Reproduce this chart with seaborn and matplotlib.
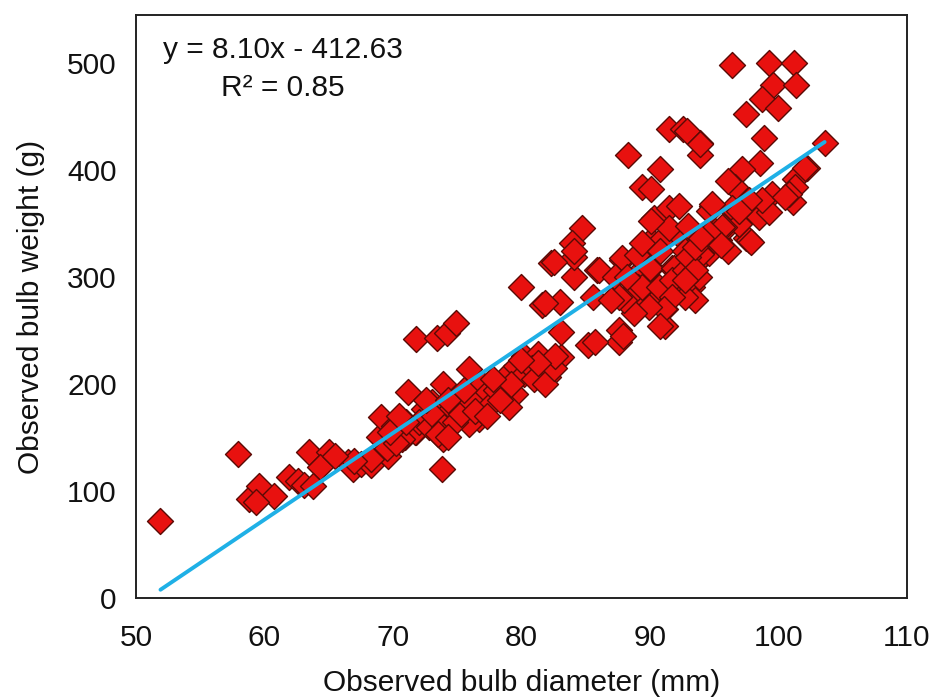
import matplotlib
matplotlib.use("Agg")
import matplotlib.pyplot as plt
import seaborn as sns
import numpy as np
import pandas as pd

# Observed bulb diameter (mm) and weight (g)
diameter = [
    51.9, 57.9, 58.8, 59.6, 60.7, 59.3, 61.9, 62.6, 63.1, 63.5, 65.0, 64.3, 63.8, 66.5, 66.9,
    67.5, 68.3, 69.6, 68.9, 69.1, 70.1, 71.2, 71.8, 70.9, 72.4, 73.9, 73.8, 73.9, 74.6, 71.8,
    73.4, 74.2, 74.9, 75.9, 76.9, 78.7, 79.6, 80.2, 81.3, 83.1, 82.1, 79.5, 79.0, 77.1, 75.9,
    76.7, 74.6, 73.8, 73.0, 71.7, 75.9, 70.7, 68.3, 67.0, 65.5, 69.5, 70.2, 72.0, 72.8, 73.2,
    74.0, 74.8, 75.3, 76.0, 77.5, 78.0, 78.3, 80.2, 80.8, 81.0, 81.8, 82.5, 79.2, 77.8, 69.8,
    71.0, 70.5, 72.6, 74.3, 75.5, 76.4, 77.3, 73.5, 74.3,
    80.0, 82.3, 84.1, 84.1, 85.9, 87.8, 81.6, 83.0, 85.6, 83.1, 85.2, 87.6, 87.6, 82.6, 81.3,
    80.0, 88.7, 88.6, 89.1, 88.3, 90.8, 89.4, 90.1, 91.5, 92.6, 93.9, 93.9, 90.3, 91.5, 92.3,
    94.8, 84.7, 83.9, 84.1, 82.5, 81.8, 87.8, 89.0, 90.1, 90.9, 90.1, 91.7, 89.1, 90.7, 91.2,
    89.1, 88.3, 91.9, 93.3, 93.8, 93.0, 94.3, 91.2, 95.0, 92.5, 91.5, 90.1, 93.0, 94.6, 96.6,
    97.5, 86.0, 87.3, 89.4, 90.0, 90.8, 91.9, 92.7, 93.8, 94.6, 95.4, 95.8, 96.1, 89.4, 90.7,
    91.7, 92.7, 93.5, 92.7, 91.7, 91.1, 89.9, 88.8, 88.0, 87.6, 87.0, 90.8, 87.9, 88.2, 85.7,
    96.4, 99.3, 101.2, 99.6, 101.4, 98.7, 100.0, 97.5, 98.9, 103.6, 98.6, 97.2, 96.6, 92.9,
    93.9, 102.2, 101.3, 101.3, 101.1, 99.5, 98.9, 98.5, 97.7, 96.4, 94.8, 96.9, 95.8, 95.0,
    94.0, 93.0, 93.5, 92.7, 102.1, 100.8, 99.3, 98.7, 97.7, 100.5, 96.9, 96.1, 95.6, 94.6,
    97.9, 93.5, 94.0, 95.5,
]
weight = [
    72, 135, 93, 105, 95, 90, 113, 109, 106, 137, 137, 123, 105, 127, 121,
    125, 124, 133, 151, 169, 161, 193, 155, 151, 177, 149, 121, 200, 177, 242,
    243, 248, 257, 214, 200, 207, 217, 226, 228, 225, 207, 191, 179, 189, 177,
    167, 179, 174, 183, 155, 163, 149, 130, 128, 133, 140, 145, 165, 160, 170,
    160, 165, 172, 185, 180, 195, 185, 210, 215, 205, 200, 215, 200, 205, 155,
    165, 170, 185, 185, 195, 175, 170, 153, 151,
    291, 313, 300, 319, 307, 316, 274, 277, 282, 249, 237, 251, 239, 226, 220,
    223, 271, 288, 304, 414, 401, 384, 383, 439, 439, 426, 414, 355, 365, 367,
    367, 346, 332, 325, 314, 276, 318, 321, 335, 335, 309, 309, 291, 282, 270,
    272, 282, 288, 291, 300, 313, 322, 254, 344, 337, 346, 353, 348, 362, 360,
    337, 307, 300, 332, 309, 325, 309, 325, 316, 323, 335, 344, 325, 291, 291,
    297, 307, 279, 282, 282, 270, 272, 267, 279, 282, 279, 254, 245, 300, 239,
    499, 500, 500, 480, 480, 467, 458, 453, 430, 426, 407, 401, 384, 437,
    425, 402, 392, 384, 370, 378, 365, 356, 335, 365, 369, 350, 347, 335,
    322, 319, 307, 297, 402, 378, 361, 372, 372, 375, 362, 390, 347, 341,
    333, 328, 337, 330,
]

slope = 8.10
intercept = -412.63
r_squared = 0.85

x_ticks = [50, 60, 70, 80, 90, 100, 110]
y_ticks = [0, 100, 200, 300, 400, 500]

df = pd.DataFrame({"diameter": diameter, "weight": weight})
fit_x = np.array([min(diameter), max(diameter)])
fit_df = pd.DataFrame({"diameter": fit_x, "weight": slope * fit_x + intercept})

sns.set_theme(style="white")
plt.rcParams["font.family"] = ["Liberation Sans", "DejaVu Sans"]

fig = plt.figure(figsize=(9.32, 6.97), dpi=100)
ax = fig.add_axes([0.146, 0.142, 0.827, 0.836])

sns.scatterplot(data=df, x="diameter", y="weight", marker="D", s=175,
                color="#e8110f", edgecolor="#5a0a05", linewidth=1.0, ax=ax, zorder=2)
sns.lineplot(data=fit_df, x="diameter", y="weight", color="#1fb0e6", linewidth=2.8,
             ax=ax, zorder=3)

ax.set_xlim(50, 110)
ax.set_ylim(0, 545)
ax.set_xticks(x_ticks)
ax.set_yticks(y_ticks)
ax.set_xticklabels([str(t) for t in x_ticks])
ax.set_yticklabels([str(t) for t in y_ticks])
ax.tick_params(axis="x", length=0, labelsize=21.5, pad=19, colors="#111111")
ax.tick_params(axis="y", length=0, labelsize=21.5, pad=14, colors="#111111")
ax.set_xlabel("Observed bulb diameter (mm)", fontsize=21.5, labelpad=12, color="#111111")
ax.set_ylabel("Observed bulb weight (g)", fontsize=21.5, labelpad=16, color="#111111")

for sp in ax.spines.values():
    sp.set_visible(True)
    sp.set_color("#222222")
    sp.set_linewidth(1.4)

ax.text(0.19, 0.94, f"y = {slope:.2f}x - {abs(intercept):.2f}", transform=ax.transAxes,
        ha="center", va="center", fontsize=21.5, color="#111111")
ax.text(0.19, 0.875, f"R\u00b2 = {r_squared:.2f}", transform=ax.transAxes,
        ha="center", va="center", fontsize=21.5, color="#111111")

fig.savefig("out.png", dpi=100)
